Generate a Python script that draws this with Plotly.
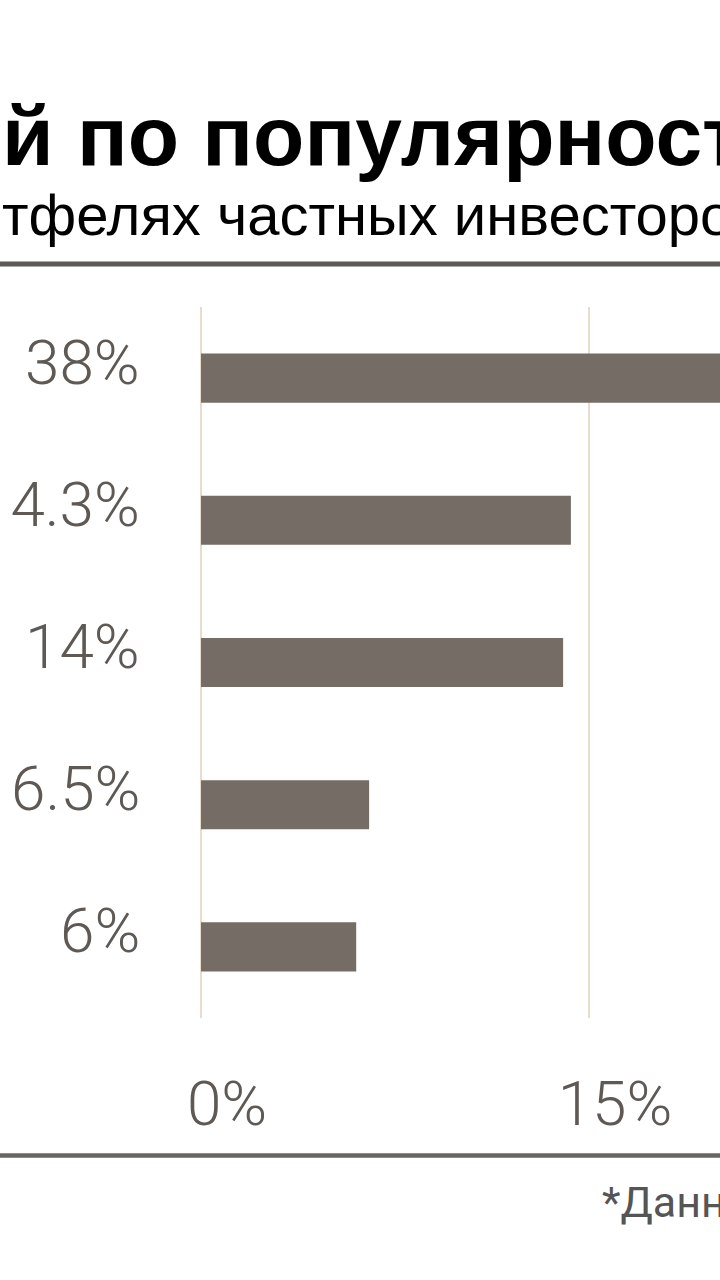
import plotly.graph_objects as go

# Data
categories = ["A", "B", "C", "D", "E"]
values = [38, 14.3, 14, 6.5, 6]
value_labels = ["38%", "14.3%", "14%", "6.5%", "6%"]
tick_vals = [0, 15, 30]
tick_text = ["0%", "15%", "30%"]

title_text = "й по популярности"
subtitle_text = "тфелях частных инвесторов"
footnote_text = "*Данные"

BAR = "#756d65"
GRID = "#eadccb"
TXT = "#5f5955"

W, H = 720, 1280
PLOT_TOP, PLOT_BOT = 307, 1018
PX_PER_UNIT = (589 - 201) / 15.0
x_min = -201 / PX_PER_UNIT
x_max = (W - 201) / PX_PER_UNIT
label_x = (142 - 201) / PX_PER_UNIT


def py(p):
    return (PLOT_BOT - p) / (PLOT_BOT - PLOT_TOP)


fig = go.Figure()
fig.add_trace(go.Bar(
    x=values, y=categories, orientation="h",
    marker=dict(color=BAR, line=dict(width=0)),
    width=0.345, hoverinfo="skip",
))

annotations = []
for cat, lab in zip(categories, value_labels):
    annotations.append(dict(
        text=lab, x=label_x, y=cat, xref="x", yref="y",
        xanchor="right", yanchor="middle", yshift=16, showarrow=False,
        font=dict(family="Roboto", size=62, color=TXT, weight=300),
    ))

annotations += [
    dict(text=title_text, xref="paper", yref="paper", x=0, y=py(136),
         xanchor="left", yanchor="middle", showarrow=False,
         font=dict(family="Liberation Sans", size=84, color="#000000", weight=700)),
    dict(text=subtitle_text, xref="paper", yref="paper", x=0, y=py(214),
         xanchor="left", yanchor="middle", showarrow=False,
         font=dict(family="Liberation Sans", size=58, color="#000000")),
    dict(text=footnote_text, xref="paper", yref="paper", x=600 / W, y=py(1202),
         xanchor="left", yanchor="middle", showarrow=False,
         font=dict(family="Roboto", size=43, color="#555555")),
]

fig.update_layout(
    width=W, height=H,
    margin=dict(l=0, r=0, t=PLOT_TOP, b=H - PLOT_BOT, pad=0),
    paper_bgcolor="white", plot_bgcolor="white",
    showlegend=False,
    xaxis=dict(
        range=[x_min, x_max], tickvals=tick_vals, ticktext=tick_text,
        showgrid=True, gridcolor=GRID, gridwidth=1.5,
        zeroline=True, zerolinecolor=GRID, zerolinewidth=1.5,
        showline=False, ticks="", ticklabelstandoff=44, ticklabelshift=26,
        tickfont=dict(family="Roboto", size=62, color=TXT, weight=300),
        fixedrange=True,
    ),
    yaxis=dict(
        type="category", categoryorder="array", categoryarray=categories,
        autorange="reversed", showticklabels=False,
        showgrid=False, zeroline=False, showline=False,
        fixedrange=True,
    ),
    annotations=annotations,
    shapes=[
        dict(type="line", xref="paper", yref="paper", x0=0, x1=1,
             y0=py(264), y1=py(264), line=dict(color="#5f5955", width=5)),
        dict(type="line", xref="paper", yref="paper", x0=0, x1=1,
             y0=py(1155.5), y1=py(1155.5), line=dict(color="#6a6460", width=4.5)),
    ],
)

fig.write_html(
    "out.html",
    config={"displayModeBar": False},
    post_script="document.body.style.margin='0px';document.body.style.overflow='hidden';",
)
